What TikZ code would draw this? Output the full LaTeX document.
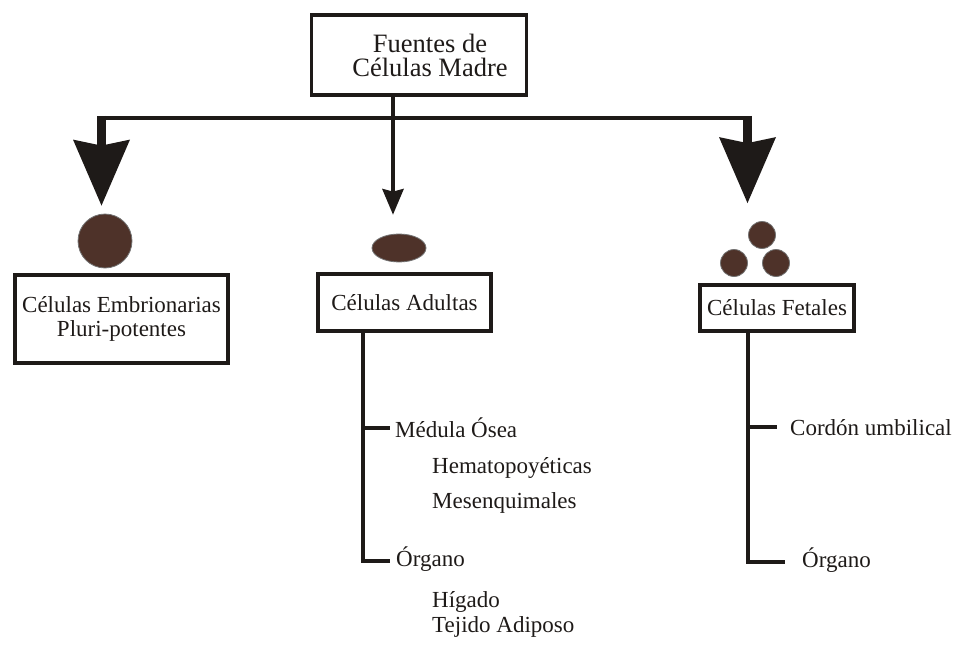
\documentclass[tikz,border=0pt]{standalone}
\usepackage{fontspec}
\setmainfont{Liberation Serif}
\usetikzlibrary{arrows.meta,positioning,calc,shapes.geometric}
\definecolor{ink}{RGB}{30,26,24}
\definecolor{cellbrown}{RGB}{78,50,41}

\begin{document}
\begin{tikzpicture}[
    x=1pt, y=-1pt,
    font=\fontsize{23}{24}\selectfont,
    box/.style={
        draw=ink,
        line width=3.5pt,
        align=center,
        inner sep=0pt,
        text=ink
    },
    label/.style={
        anchor=base west,
        inner sep=0pt,
        text=ink
    },
    cell/.style={
        circle,
        fill=cellbrown,
        draw=black!55,
        line width=0.8pt,
        inner sep=0pt
    },
    feed/.style={draw=ink, line width=4.5pt},
    bigarrow/.style={draw=ink, line width=9pt, -{Stealth[length=66pt,width=57pt,inset=6pt,line width=0pt]}},
    smallarrow/.style={draw=ink, line width=4.5pt, -{Stealth[length=26pt,width=22pt,inset=3pt,line width=0pt]}},
    branch/.style={draw=ink, line width=4.5pt, line join=miter}
]
\useasboundingbox (0,0) rectangle (954,645);

% Top source box
\node[box, minimum width=215pt, minimum height=80pt, font=\fontsize{26.5}{24}\selectfont] (sources) at (419,55) {\hspace*{22pt}Fuentes de\\\hspace*{22pt}Células Madre};

% Three kinds of cells
\node[box, minimum width=213pt, minimum height=88pt] (embryo) at (121.5,319) {Células Embrionarias\\Pluri-potentes};
\node[box, minimum width=173pt, minimum height=57pt] (adult) at (404.5,302.5) {Células Adultas};
\node[box, minimum width=154pt, minimum height=46pt] (fetal) at (777,308) {Células Fetales};

\node[cell, minimum size=54pt] (embcell) at (105,241) {};
\node[cell, ellipse, minimum width=54pt, minimum height=28pt] (adultcell) at (399,248) {};
\node[cell, minimum size=27pt] (fetcellA) at (762,235) {};
\node[cell, minimum size=27pt] (fetcellB) at (734,263) {};
\node[cell, minimum size=27pt] (fetcellC) at (776,263) {};

% Distribution bar
\coordinate (hub) at (393,118);
\coordinate (lcorner) at (101.5,118);
\coordinate (rcorner) at (747.5,118);

\draw[feed] (sources.south -| hub) -- (hub);
\draw[feed] (lcorner) -- (rcorner);
\draw[bigarrow, shorten <=-2.25pt, shorten >=8pt] (lcorner) -- (lcorner |- embcell.north);
\draw[smallarrow, shorten >=19pt] (hub) -- (hub |- adultcell.north);
\draw[bigarrow, shorten <=-2.25pt, shorten >=18pt] (rcorner) -- (rcorner |- fetcellA.north);

% Adult sources
\node[label] (marrow) at (395,437) {Médula Ósea};
\node[label] (blood) at (432,473) {Hematopoyéticas};
\node[label] (mesen) at (432,508) {Mesenquimales};
\node[label] (aorgan) at (396,566) {Órgano};
\node[label] (liver) at (432,607) {Hígado};
\node[label] (fat) at (432,632) {Tejido Adiposo};

\coordinate (atop) at (363,428);
\coordinate (abot) at (363,561);
\draw[branch, shorten >=6pt] (adult.south -| abot) -- (abot) -- (abot -| aorgan.west);
\draw[branch, shorten >=5pt] (atop) -- (atop -| marrow.west);

% Fetal sources
\node[label] (cord) at (790,435) {Cordón umbilical};
\node[label] (forgan) at (802,567) {Órgano};

\coordinate (ftop) at (748,427);
\coordinate (fbot) at (748,562);
\draw[branch, shorten >=17pt] (fetal.south -| fbot) -- (fbot) -- (fbot -| forgan.west);
\draw[branch, shorten >=13pt] (ftop) -- (ftop -| cord.west);

\end{tikzpicture}
\end{document}
